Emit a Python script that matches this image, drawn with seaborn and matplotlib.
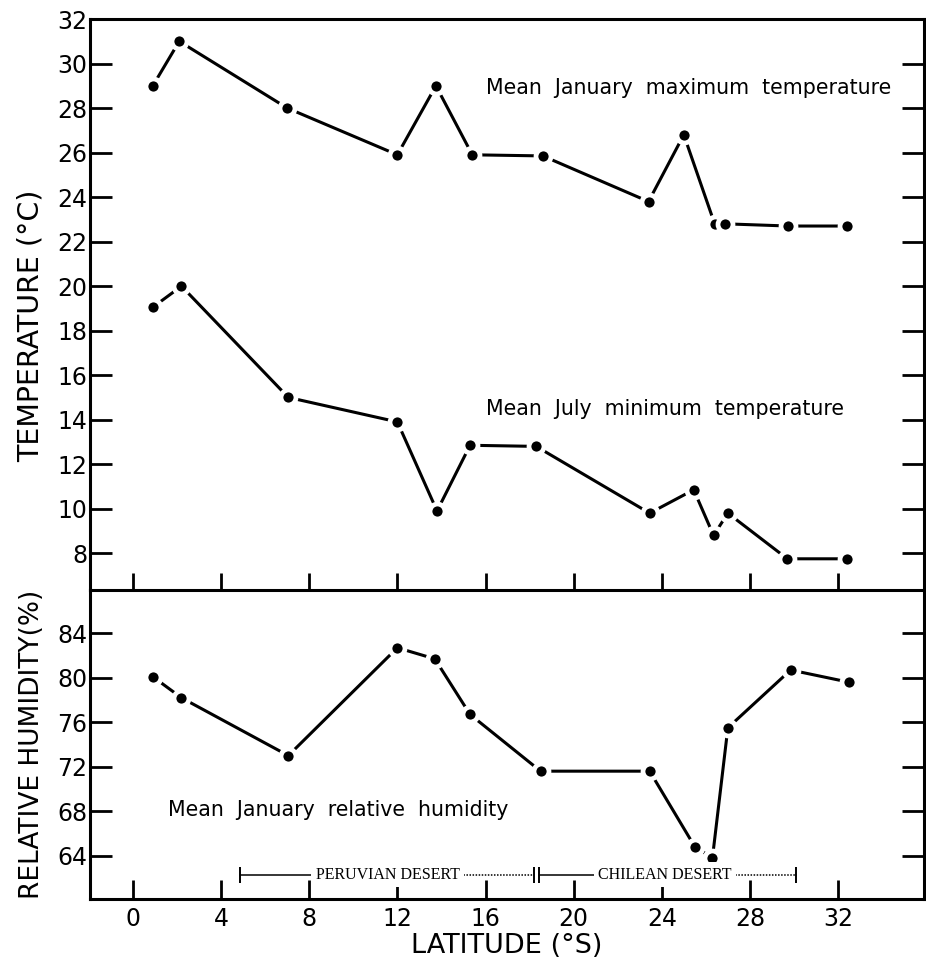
import matplotlib
matplotlib.use("Agg")
import matplotlib.pyplot as plt
import numpy as np
import pandas as pd
import seaborn as sns

sns.set_style("white")
plt.rcParams["font.family"] = ["DejaVu Sans"]
plt.rcParams["axes.edgecolor"] = "black"
plt.rcParams["text.color"] = "black"
plt.rcParams["axes.labelcolor"] = "black"
plt.rcParams["xtick.color"] = "black"
plt.rcParams["ytick.color"] = "black"

# station latitudes (deg S) and values
LAT_TMAX = [0.9, 2.1, 7.0, 12.0, 13.75, 15.4, 18.6, 23.4, 25.0, 26.4, 26.85, 29.75, 32.4]
TMAX = [29.0, 31.0, 28.0, 25.9, 29.0, 25.9, 25.85, 23.8, 26.8, 22.8, 22.8, 22.7, 22.7]

LAT_TMIN = [0.9, 2.2, 7.05, 12.0, 13.8, 15.3, 18.3, 23.45, 25.45, 26.35, 27.0, 29.7, 32.4]
TMIN = [19.05, 20.0, 15.0, 13.9, 9.9, 12.85, 12.8, 9.8, 10.85, 8.8, 9.8, 7.75, 7.75]

LAT_RH = [0.9, 2.2, 7.05, 12.0, 13.7, 15.3, 18.5, 23.45, 25.5, 26.3, 27.0, 29.85, 32.5]
RH = [80.1, 78.2, 73.0, 82.7, 81.7, 76.7, 71.6, 71.6, 64.8, 63.8, 75.5, 80.7, 79.6]

LAT_TICKS = [0, 4, 8, 12, 16, 20, 24, 28, 32]
TEMP_TICKS = [8, 10, 12, 14, 16, 18, 20, 22, 24, 26, 28, 30, 32]
RH_TICKS = [64, 68, 72, 76, 80, 84]

DESERTS = ["PERUVIAN DESERT", "CHILEAN DESERT"]
DESERT_START = [4.85, 18.45]
DESERT_END = [18.2, 30.1]
DESERT_LABEL_AT = [11.55, 24.15]

fig = plt.figure(figsize=(9.26, 9.61), dpi=100)
ax_t = fig.add_axes([0.0972, 0.3861, 0.9006, 0.5941])
ax_h = fig.add_axes([0.0972, 0.0645, 0.9006, 0.3216])
ax_h.patch.set_visible(False)
ax_t.set_zorder(2)
ax_t.patch.set_visible(False)

line_kw = dict(color="black", lw=2.2, marker="o", ms=10.8, mfc="black",
               mec="white", mew=3.4, sort=False)

tmax = pd.DataFrame({"lat": LAT_TMAX, "val": TMAX})
tmin = pd.DataFrame({"lat": LAT_TMIN, "val": TMIN})
rh = pd.DataFrame({"lat": LAT_RH, "val": RH})

sns.lineplot(data=tmax, x="lat", y="val", ax=ax_t, **line_kw)
sns.lineplot(data=tmin, x="lat", y="val", ax=ax_t, **line_kw)
sns.lineplot(data=rh, x="lat", y="val", ax=ax_h, **line_kw)

for ax in (ax_t, ax_h):
    ax.set_xlim(-1.95, 35.9)
    ax.set_xticks(LAT_TICKS)
    for s in ax.spines.values():
        s.set_linewidth(2.2)
        s.set_color("black")
    ax.tick_params(axis="y", which="both", direction="in", length=16, width=2,
                   left=True, right=True, labelsize=17, pad=2)

ax_t.set_ylim(6.35, 32.0)
ax_t.set_yticks(TEMP_TICKS)
ax_t.tick_params(axis="x", direction="in", length=12, width=2, bottom=True,
                 labelbottom=False)
ax_t.set_xlabel("")
ax_t.set_ylabel("TEMPERATURE (°C)", fontsize=20.5)
ax_t.yaxis.set_label_coords(-0.054, 0.462)

ax_h.set_ylim(60.1, 87.9)
ax_h.set_yticks(RH_TICKS)
ax_h.spines["top"].set_visible(False)
ax_h.tick_params(axis="x", direction="in", length=14, width=2, bottom=True,
                 labelsize=17, pad=6)
ax_h.set_xlabel("LATITUDE (°S)", fontsize=19.5, labelpad=1)
ax_h.set_ylabel("RELATIVE HUMIDITY(%)", fontsize=19)
ax_h.yaxis.set_label_coords(-0.054, 0.5)

ax_t.text(16.0, 28.9, "Mean  January  maximum  temperature", fontsize=14.8,
          ha="left", va="center")
ax_t.text(16.0, 14.5, "Mean  July  minimum  temperature", fontsize=14.8,
          ha="left", va="center")
ax_h.text(1.6, 68.1, "Mean  January  relative  humidity", fontsize=14.8,
          ha="left", va="center")

desert_y = 62.3
for name, x0, x1, xm in zip(DESERTS, DESERT_START, DESERT_END, DESERT_LABEL_AT):
    ax_h.plot([x0, xm], [desert_y, desert_y], color="black", lw=1.1)
    ax_h.plot([xm, x1], [desert_y, desert_y], color="black", lw=1.1, ls=(0, (1, 1)))
    ax_h.plot([x0, x1], [desert_y, desert_y], ls="none", marker="|", ms=11,
              mew=1.4, color="black")
    ax_h.text(xm, desert_y, name, fontsize=11.5, family="Liberation Serif",
              ha="center", va="center",
              bbox=dict(facecolor="white", edgecolor="none", pad=3))

fig.savefig("out.png", dpi=100, facecolor="white")
